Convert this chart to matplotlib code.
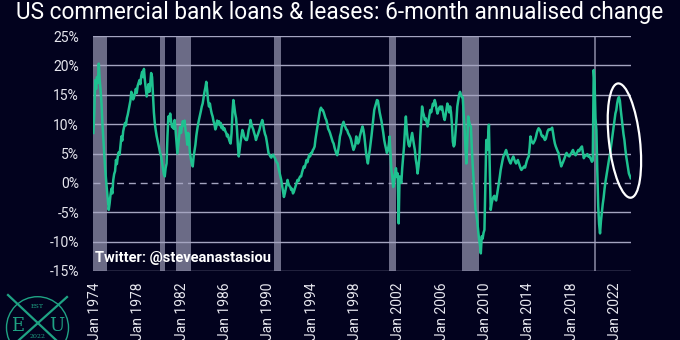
import numpy as np
import pandas as pd
import matplotlib
matplotlib.use("Agg")
import matplotlib.pyplot as plt
from matplotlib.patches import Ellipse, Circle
from matplotlib.transforms import IdentityTransform

# 6-month annualised change (%), monthly, Nov 1973 .. Jun 2023
start_month = "1973-11"
growth = [
    8.5, 12.0,                                                          # 1973
    17.5, 16.0, 18.0, 17.0, 20.3, 17.5, 15.8, 13.5, 10.0, 7.5, 5.0, 2.5,  # 1974
    0.5, -1.2, -2.8, -4.6, -3.5, -2.0, -1.0, -1.8, 0.5, 1.5, 2.0, 3.9,    # 1975
    3.2, 4.5, 5.2, 4.8, 6.3, 7.9, 7.2, 8.8, 9.5, 10.2, 9.8, 11.0,         # 1976
    11.6, 12.4, 13.2, 14.0, 15.5, 15.0, 14.2, 14.6, 15.2, 16.0, 15.3, 16.5,  # 1977
    17.0, 17.5, 16.8, 18.2, 18.9, 18.0, 19.4, 17.5, 16.0, 14.7, 15.8, 16.8,  # 1978
    15.5, 17.0, 18.7, 18.0, 15.0, 12.0, 10.2, 9.0, 8.0, 7.3, 6.5, 5.8,    # 1979
    5.0, 4.5, 3.5, 2.5, 1.5, 1.1, 2.5, 3.3, 8.0, 11.3, 10.5, 11.8,        # 1980
    10.5, 9.5, 10.0, 9.2, 10.7, 9.0, 7.0, 5.0, 6.5, 8.0, 9.5, 8.5,        # 1981
    9.5, 10.5, 9.8, 10.6, 9.0, 8.0, 6.5, 8.5, 7.0, 5.0, 4.0, 3.2,         # 1982
    2.8, 4.5, 5.5, 6.5, 8.0, 9.1, 10.0, 10.8, 11.5, 12.2, 13.0, 13.5,     # 1983
    14.5, 15.5, 16.2, 17.2, 15.8, 14.0, 13.0, 13.5, 12.5, 11.8, 11.3, 10.5,  # 1984
    10.0, 9.1, 9.5, 10.6, 10.0, 10.5, 9.8, 10.2, 9.3, 9.7, 9.0, 9.3,      # 1985
    8.8, 8.5, 7.9, 8.2, 7.5, 7.0, 6.7, 8.5, 12.0, 14.1, 13.0, 11.8,       # 1986
    11.0, 9.0, 6.5, 4.5, 5.8, 7.0, 8.0, 9.0, 8.5, 7.8, 7.5, 7.3,          # 1987
    7.3, 8.0, 9.0, 9.5, 10.7, 10.0, 9.5, 9.1, 8.5, 8.0, 7.3, 7.8,         # 1988
    8.2, 8.7, 9.1, 9.8, 10.2, 10.7, 10.0, 9.0, 8.3, 7.9, 7.0, 6.0,        # 1989
    5.0, 4.8, 4.5, 4.3, 4.6, 4.8, 4.5, 4.2, 3.8, 3.5, 3.3, 2.5,           # 1990
    1.8, 1.1, 0.5, -0.5, -1.5, -2.4, -1.8, -1.0, -0.2, 0.5, -0.2, -0.5,   # 1991
    -0.7, -1.2, -1.0, -1.8, -1.5, -1.0, -0.5, 0.0, 0.5, 0.3, 0.8, 1.1,    # 1992
    1.1, 1.8, 2.3, 2.8, 2.6, 3.2, 3.9, 3.5, 4.2, 4.8, 4.5, 5.1,           # 1993
    5.1, 5.6, 5.8, 6.2, 7.5, 8.5, 9.5, 10.5, 11.5, 12.4, 12.8, 12.4,      # 1994
    12.4, 12.0, 11.5, 11.0, 10.7, 10.0, 9.2, 8.9, 8.5, 8.0, 7.5, 7.0,     # 1995
    6.7, 6.0, 5.5, 5.0, 4.7, 5.5, 6.5, 7.9, 8.5, 9.5, 10.0, 10.4,         # 1996
    9.8, 9.5, 9.1, 9.0, 8.5, 8.2, 7.9, 7.5, 6.8, 6.2, 5.6, 6.0,           # 1997
    6.5, 7.9, 7.2, 6.7, 7.0, 7.9, 8.5, 9.1, 9.6, 9.0, 8.0, 6.5,           # 1998
    5.0, 4.0, 3.3, 4.5, 5.5, 6.7, 8.0, 9.5, 11.0, 12.4, 13.0, 13.5,       # 1999
    14.1, 14.0, 13.0, 12.0, 11.3, 10.5, 9.5, 8.5, 7.3, 6.5, 5.8, 5.1,     # 2000
    5.5, 6.5, 7.9, 5.0, 2.2, 1.0, -0.7, 0.5, 1.6, 2.5, 1.0, 1.6,          # 2001
    -6.9, 1.1, 0.5, 0.0, 2.5, 4.5, 6.2, 9.0, 11.3, 9.0, 7.5, 6.5,         # 2002
    6.2, 7.0, 7.8, 8.5, 7.5, 6.5, 5.6, 4.0, 3.0, 1.6, 2.8, 4.5,           # 2003
    8.0, 10.5, 13.0, 12.0, 11.5, 10.7, 11.0, 10.3, 9.6, 10.5, 11.5, 12.4,  # 2004
    12.0, 12.8, 13.5, 13.2, 14.1, 13.5, 12.5, 11.8, 12.3, 12.8, 13.0, 12.5,  # 2005
    13.0, 12.0, 11.2, 10.7, 11.5, 12.5, 13.5, 13.0, 12.0, 13.0, 12.0, 10.0,  # 2006
    7.0, 6.2, 6.5, 8.5, 10.5, 13.0, 14.0, 15.0, 15.5, 15.0, 14.6, 14.6,   # 2007
    12.0, 9.1, 6.0, 3.3, 7.0, 11.3, 10.5, 9.8, 9.6, 6.0, 3.0, 0.5,        # 2008
    -2.0, -4.5, -5.2, -6.5, -8.0, -9.5, -10.5, -12.0, -9.1, -9.5, -8.5, -8.0,  # 2009
    0.0, 7.3, 5.6, 7.5, 9.9, 2.0, -4.6, -3.5, -2.8, -2.4, -2.2, -2.8,     # 2010
    -3.0, -2.0, -1.0, 0.0, 1.0, 2.2, 3.0, 3.8, 4.5, 4.8, 5.2, 5.6,        # 2011
    5.0, 4.5, 4.0, 3.6, 3.3, 3.8, 4.2, 4.5, 4.0, 3.6, 3.3, 3.6,           # 2012
    3.9, 3.4, 3.0, 2.5, 2.2, 2.4, 2.6, 2.8, 2.6, 3.2, 3.8, 4.2,           # 2013
    4.5, 6.0, 7.9, 7.2, 6.9, 6.7, 7.0, 7.3, 7.8, 8.5, 9.0, 9.3,           # 2014
    9.1, 8.8, 8.2, 7.9, 8.0, 7.6, 7.3, 7.5, 8.2, 8.8, 9.1, 9.0,           # 2015
    9.1, 9.2, 9.4, 8.5, 7.5, 6.7, 6.2, 5.8, 5.4, 5.1, 4.2, 3.5,           # 2016
    2.8, 3.2, 3.5, 3.9, 4.3, 4.8, 5.1, 4.8, 4.6, 4.5, 4.8, 5.0,           # 2017
    5.3, 5.6, 5.2, 4.9, 4.7, 5.0, 5.3, 5.6, 5.4, 5.8, 6.0, 6.2,           # 2018
    5.2, 4.2, 4.5, 4.6, 4.7, 4.9, 4.5, 4.6, 4.3, 4.0, 3.6, 3.8,           # 2019
    19.2, 17.0, 11.0, 9.0, 2.0, -4.0, -7.0, -8.6, -6.5, -5.0, -3.6, -2.5,  # 2020
    -1.0, 0.2, 1.1, 2.0, 3.0, 4.0, 4.8, 6.0, 7.2, 8.5, 9.5, 10.8,         # 2021
    11.8, 12.4, 13.5, 14.3, 14.6, 14.0, 12.4, 11.0, 9.6, 8.3, 7.3, 5.8,   # 2022
    4.5, 3.5, 2.5, 1.6, 1.2, 0.8,                                       # 2023
]

# NBER recessions shaded on the chart
rec_start = ["1973-11-01", "1980-01-01", "1981-07-01", "1990-07-01",
             "2001-03-01", "2007-12-01", "2020-02-01"]
rec_end = ["1975-03-01", "1980-07-01", "1982-11-01", "1991-03-01",
           "2001-11-01", "2009-06-01", "2020-04-01"]

y_ticks = [-15, -10, -5, 0, 5, 10, 15, 20, 25]
x_tick_years = list(range(1974, 2023, 4))

BG = "#02021e"
LINE = "#1fc190"
REC = "#6b6b86"
GRID = "#a4a4c0"
TXT = "#e6e6ee"
TEAL = "#1fa384"
FONT = "Roboto"

fig = plt.figure(figsize=(6.8, 3.4), dpi=100, facecolor=BG)
ax = fig.add_axes([93 / 680, 1 - 271 / 340, (631 - 93) / 680, (271 - 36) / 340])
ax.set_facecolor(BG)

dates = pd.date_range(start_month, periods=len(growth), freq="MS") + pd.Timedelta(days=14)

for s, e in zip(rec_start, rec_end):
    ax.axvspan(pd.Timestamp(s), pd.Timestamp(e), color=REC, lw=0, zorder=1)

for v in y_ticks:
    if v == 0:
        ax.axhline(v, color=GRID, lw=1.0, dashes=(5, 3.5), zorder=2)
    else:
        ax.axhline(v, color=GRID, lw=1.0, zorder=2)

ax.plot(dates, growth, color=LINE, lw=1.8, zorder=3)

ax.set_xlim(pd.Timestamp("1973-11-01"), pd.Timestamp("2023-06-25"))
ax.set_ylim(-15, 25)

ax.set_yticks(y_ticks)
ax.set_yticklabels([f"{v}%" for v in y_ticks], color=TXT, fontsize=10, family=FONT)
ax.set_xticks([pd.Timestamp(f"{y}-01-01") for y in x_tick_years])
ax.set_xticklabels([f"Jan {y}" for y in x_tick_years], rotation=90, color=TXT,
                   fontsize=10, family=FONT)
ax.tick_params(axis="both", length=0)
ax.tick_params(axis="y", pad=10)
ax.tick_params(axis="x", pad=8)
for sp in ax.spines.values():
    sp.set_visible(False)

ax.text(0.003, 0.055, "Twitter: @steveanastasiou", transform=ax.transAxes,
        color="white", fontsize=10.5, fontweight="bold", family=FONT,
        va="center", ha="left", zorder=4)

fig.text(0.5, 1 - 12.5 / 340, "US commercial bank loans & leases: 6-month annualised change",
         color="white", fontsize=16.3, family=FONT, ha="center", va="center")

# highlight ellipse round the latest move (drawn in pixels so the tilt stays round)
cx, cy = ax.transData.transform((matplotlib.dates.date2num(pd.Timestamp("2022-11-15")), 7.2))
fig.add_artist(Ellipse((cx, cy), 31, 115, angle=6.5, transform=IdentityTransform(),
                       fill=False, ec="white", lw=1.6, zorder=5))

# EXU logo, bottom left
fig.add_artist(Circle((37.5, 340 - 327.7), 31, transform=IdentityTransform(),
                      fill=False, ec=TEAL, lw=1.0))
fig.add_artist(plt.Line2D([8, 56], [340 - 295, 0], transform=IdentityTransform(),
                          color=TEAL, lw=1.6))
fig.add_artist(plt.Line2D([67, 19], [340 - 297, 0], transform=IdentityTransform(),
                          color=TEAL, lw=1.6))
fig.text(37.5 / 680, 1 - 306 / 340, "EST", color=TEAL, fontsize=4.5, family="DejaVu Serif",
         ha="center", va="center")
fig.text(18 / 680, 1 - 326 / 340, "E", color=TEAL, fontsize=13, family="DejaVu Serif",
         ha="center", va="center")
fig.text(57 / 680, 1 - 326 / 340, "U", color=TEAL, fontsize=13, family="DejaVu Serif",
         ha="center", va="center")
fig.text(37.5 / 680, 1 - 337 / 340, "2022", color=TEAL, fontsize=4.5, family="DejaVu Serif",
         ha="center", va="center")

fig.savefig("out.png", dpi=100, facecolor=BG)
